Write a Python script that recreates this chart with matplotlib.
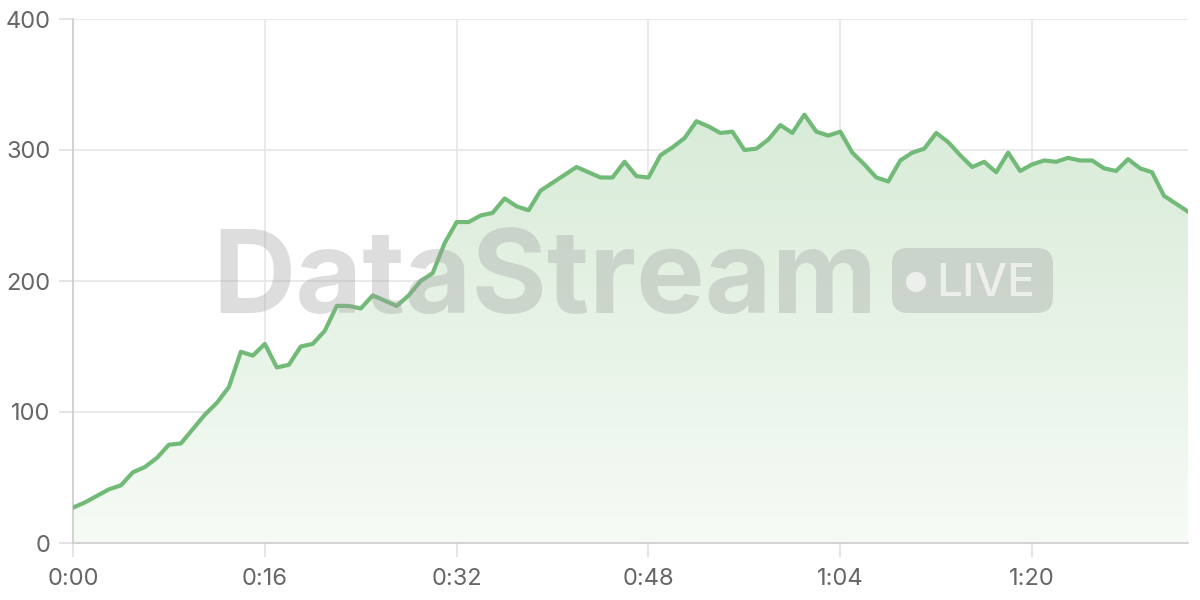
import numpy as np
import matplotlib
matplotlib.use("Agg")
import matplotlib.pyplot as plt
from matplotlib.patches import FancyBboxPatch, Circle, Polygon
from matplotlib.transforms import IdentityTransform

# values, one sample per second
values = [27, 31, 36, 41, 44, 54, 58, 65, 75, 76,
          87, 98, 107, 119, 146, 143, 152, 134, 136, 150,
          152, 162, 181, 181, 179, 189, 185, 181, 189, 200,
          206, 229, 245, 245, 250, 252, 263, 257, 254, 269,
          275, 281, 287, 283, 279, 279, 291, 280, 279, 296,
          302, 309, 322, 318, 313, 314, 300, 301, 308, 319,
          313, 327, 314, 311, 314, 298, 289, 279, 276, 292,
          298, 301, 313, 306, 296, 287, 291, 283, 298, 284,
          289, 292, 291, 294, 292, 292, 286, 284, 293, 286,
          283, 265, 259, 253]
seconds = list(range(len(values)))
tick_secs = [0, 16, 32, 48, 64, 80]
tick_labels = ["0:00", "0:16", "0:32", "0:48", "1:04", "1:20"]
y_ticks = [0, 100, 200, 300, 400]

plt.rcParams['font.family'] = ['Inter', 'DejaVu Sans']

fig = plt.figure(figsize=(12, 6), dpi=100)
ax = fig.add_axes([73/1200, 57/600, (1188-73)/1200, (543-19)/600])

line_col = "#72ba77"
x = np.array(seconds)
y = np.array(values)

# gradient fill under the line, strongest at the peak
grad = np.linspace(0, 1, 256).reshape(-1, 1)
cmap = matplotlib.colors.LinearSegmentedColormap.from_list(
    "g", ["#f6fbf6", "#d8ebd8"])
im = ax.imshow(grad, extent=[x[0], x[-1], 0, y.max()], origin="lower",
               aspect="auto", cmap=cmap, zorder=1)
verts = np.vstack([np.c_[x, y], [x[-1], 0], [x[0], 0]])
clip = Polygon(verts, closed=True, transform=ax.transData, facecolor="none", edgecolor="none")
ax.add_patch(clip)
im.set_clip_path(clip)

ax.plot(x, y, color=line_col, lw=3, zorder=4)

# watermark (pixel coordinates, figure saved at its own dpi)
fig.text(212/1200, (600-313)/600, "DataStream", fontsize=83,
         fontweight="bold", color="#a0a0a0", alpha=0.35, ha="left", va="baseline", zorder=3)
pill = FancyBboxPatch((892, 600-313), 161, 65,
                      boxstyle="round,pad=0,rounding_size=16",
                      transform=IdentityTransform(), facecolor="#a0a0a0",
                      edgecolor="none", alpha=0.35, zorder=3)
fig.patches.append(pill)
dot = Circle((916, 600-282), 10, transform=IdentityTransform(),
             facecolor="white", edgecolor="none", alpha=0.65, zorder=4)
fig.patches.append(dot)
fig.text(936/1200, (600-296)/600, "LIVE", fontsize=33, color="white", alpha=0.65,
         ha="left", va="baseline", fontweight="medium")

ax.set_xlim(0, 93)
ax.set_ylim(0, 400)
ax.set_xticks(tick_secs)
ax.set_xticklabels(tick_labels)
ax.set_yticks(y_ticks)
ax.grid(True, color="#e6e6e6", lw=1.2, zorder=0)
ax.set_axisbelow(True)
for s in ["top", "right"]:
    ax.spines[s].set_visible(False)
for s in ["left", "bottom"]:
    ax.spines[s].set_color("#cccccc")
    ax.spines[s].set_linewidth(1.2)
ax.tick_params(colors="#e0e0e0", length=10, width=1.2, labelsize=17,
               labelcolor="#666666")
ax.tick_params(axis="x", pad=8)
ax.tick_params(axis="y", pad=6)

fig.savefig("out.png", dpi=100)
